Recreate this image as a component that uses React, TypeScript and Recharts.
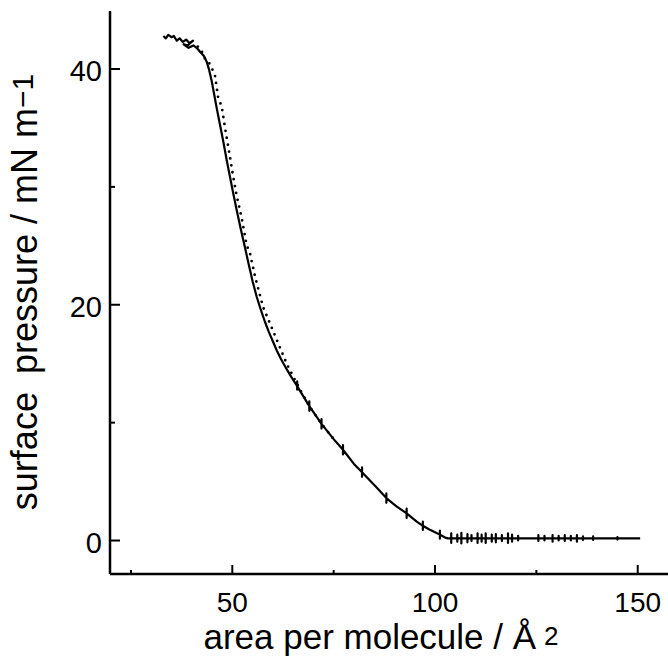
import React from "react";
import { LineChart, Line, XAxis, YAxis } from "recharts";

// solid isotherm, area in Å² and pressure in mN/m (repeated areas are the small noise spikes)
const solidArea = [
    33.0, 33.6, 34.2, 35.0, 35.6, 36.3, 37.0, 37.8, 38.6, 39.4, 40.3, 39.0, 38.0, 39.2, 40.4, 41.2, 42.2, 43.0,
    43.7, 44.3, 44.9, 45.5, 46.2, 47.0, 47.8, 48.6, 49.4, 50.2, 51.1, 52.1, 53.1, 54.0, 55.0, 56.0, 57.0, 58.0,
    59.0, 60.0, 61.0, 62.0, 63.3, 64.5, 66.0, 66.0, 66.0, 66.0, 66.7, 69.0, 69.0, 69.0, 69.0, 72.0, 72.0, 72.0,
    72.0, 75.0, 77.3, 77.3, 77.3, 77.3, 80.0, 82.0, 82.0, 82.0, 82.0, 85.6, 88.0, 88.0, 88.0, 88.0, 90.5, 93.0,
    93.0, 93.0, 93.0, 95.5, 97.0, 97.0, 97.0, 97.0, 98.5, 100.0, 101.2, 101.2, 101.2, 101.2, 102.5, 103.2,
];
const solidPressure = [
    42.8, 42.6, 42.9, 42.7, 42.8, 42.4, 42.6, 42.3, 42.5, 42.2, 42.4, 42.0, 42.1, 41.8, 42.0, 41.8, 41.4, 41.1,
    40.6, 39.9, 39.0, 37.9, 36.6, 35.2, 33.8, 32.3, 30.9, 29.5, 28.0, 26.4, 24.9, 23.5, 22.0, 20.7, 19.6, 18.6,
    17.7, 16.9, 16.1, 15.4, 14.6, 13.9, 13.1, 13.5, 12.8, 13.1, 12.7, 11.4, 11.8, 11.0, 11.4, 9.9, 10.3, 9.5,
    9.9, 8.6, 7.7, 8.1, 7.3, 7.7, 6.5, 5.8, 6.2, 5.4, 5.8, 4.5, 3.6, 4.0, 3.2, 3.6, 2.9, 2.3,
    2.7, 1.9, 2.3, 1.6, 1.25, 1.6, 0.9, 1.25, 0.95, 0.7, 0.5, 0.85, 0.15, 0.5, 0.25, 0.18,
];

// flat part beyond the lift-off: level and the noise spikes on it
const flatLevel = 0.18;
const flatEnd = 150.6;
const spikeArea = [
    104, 105.5, 106.5, 108, 109, 110.5, 111.5, 112.5, 114, 115, 116.5, 118, 119, 120.5, 125.5, 127, 129, 130.5,
    132, 133.5, 135, 136.5, 139, 145,
];
const spikeHigh = [
    0.6, 0.5, 0.65, 0.55, 0.45, 0.6, 0.5, 0.6, 0.5, 0.55, 0.45, 0.6, 0.5, 0.4, 0.45, 0.4, 0.45, 0.4, 0.45, 0.4,
    0.45, 0.35, 0.35, 0.3,
];
const spikeLow = [
    -0.2, -0.1, -0.25, -0.15, -0.05, -0.2, -0.1, -0.2, -0.1, -0.15, -0.05, -0.2, -0.1, 0.0, -0.05, 0.0, -0.1, 0.0,
    -0.05, 0.0, -0.1, 0.05, 0.05, 0.08,
];

// dotted isotherm
const dottedArea = [
    41.5, 42.4, 42.9, 43.7, 44.5, 45.7, 46.5, 47.4, 48.2, 49.3, 50.1, 51.1, 52.3, 53.5, 54.4, 55.6, 57.6, 61.0,
    63.4, 66.7, 69.0, 72.0, 75.0,
];
const dottedPressure = [
    41.9, 41.6, 41.0, 40.8, 40.4, 39.5, 37.6, 36.8, 35.0, 32.8, 31.1, 29.2, 27.4, 25.1, 24.3, 22.4, 19.8, 17.0,
    15.0, 12.8, 11.4, 9.9, 8.6,
];

const xTicks = [25, 50, 75, 100, 125, 150];
const yTicks = [0, 10, 20, 30, 40];

const solidData: { a: number; p: number }[] = solidArea.map((a, i) => ({ a, p: solidPressure[i] }));
spikeArea.forEach((a, i) => {
    solidData.push({ a, p: flatLevel }, { a, p: spikeHigh[i] }, { a, p: spikeLow[i] }, { a, p: flatLevel });
});
solidData.push({ a: flatEnd, p: flatLevel });

const dottedData = dottedArea.map((a, i) => ({ a, p: dottedPressure[i] }));

const font = "'Liberation Sans', Arial, Helvetica, sans-serif";

const YTick = (props: any) => {
    const { x, y, payload } = props;
    const major = payload.value % 20 === 0;
    return (
        <g>
            <line x1={x} y1={y} x2={x + (major ? 10 : 5)} y2={y} stroke="#000" strokeWidth={2} />
            {major && (
                <text x={x - 8} y={y + 12} textAnchor="end" fontSize={29} fontFamily={font} fill="#000">
                    {payload.value}
                </text>
            )}
        </g>
    );
};

const XTick = (props: any) => {
    const { x, y, payload } = props;
    const major = payload.value % 50 === 0;
    return (
        <g>
            <line x1={x} y1={y} x2={x} y2={y - (major ? 9 : 4)} stroke="#000" strokeWidth={2} />
            {major && (
                <text x={x} y={y + 38} textAnchor="middle" fontSize={28} fontFamily={font} fill="#000">
                    {payload.value}
                </text>
            )}
        </g>
    );
};

const App = () => {
    return (
        <div style={{ position: "absolute", left: 0, top: 0, width: 668, height: 660, background: "#fff" }}>
            <LineChart width={668} height={660} margin={{ top: 11, right: 0, bottom: 0, left: 0 }}>
                <XAxis
                    xAxisId="top"
                    orientation="top"
                    type="number"
                    domain={[19.83, 157.47]}
                    allowDataOverflow
                    height={0}
                    tick={false}
                    tickLine={false}
                    axisLine={{ stroke: "#000", strokeWidth: 2.5 }}
                />
                <XAxis
                    dataKey="a"
                    type="number"
                    domain={[19.83, 157.47]}
                    allowDataOverflow
                    ticks={xTicks}
                    interval={0}
                    height={86}
                    tickSize={0}
                    tickMargin={0}
                    tickLine={false}
                    tick={<XTick />}
                    axisLine={{ stroke: "#000", strokeWidth: 2.5 }}
                />
                <YAxis
                    type="number"
                    domain={[-2.84, 44.92]}
                    allowDataOverflow
                    ticks={yTicks}
                    interval={0}
                    width={110}
                    tickSize={0}
                    tickMargin={0}
                    tickLine={false}
                    tick={<YTick />}
                    axisLine={{ stroke: "#000", strokeWidth: 2.5 }}
                />
                <Line
                    data={dottedData}
                    dataKey="p"
                    type="linear"
                    stroke="#000"
                    strokeWidth={2.8}
                    strokeDasharray="0 7"
                    strokeLinecap="round"
                    dot={false}
                    activeDot={false}
                    isAnimationActive={false}
                />
                <Line
                    data={solidData}
                    dataKey="p"
                    type="linear"
                    stroke="#000"
                    strokeWidth={2.2}
                    strokeLinejoin="round"
                    dot={false}
                    activeDot={false}
                    isAnimationActive={false}
                />
            </LineChart>
            <svg width={668} height={660} style={{ position: "absolute", left: 0, top: 0, pointerEvents: "none" }}>
                <text x={381} y={649} textAnchor="middle" fontSize={35} fontFamily={font} fill="#000">
                    area per molecule / Å<tspan fontSize={26} dx={8} dy={-4}>2</tspan>
                </text>
                <text
                    transform="translate(37,292) rotate(-90)"
                    textAnchor="middle"
                    fontSize={36}
                    fontFamily={font}
                    fill="#000"
                >
                    surface<tspan dx={18}>pressure / mN m</tspan>
                    <tspan fontSize={30} dy={-4}>−1</tspan>
                </text>
            </svg>
        </div>
    );
};

export default App;
